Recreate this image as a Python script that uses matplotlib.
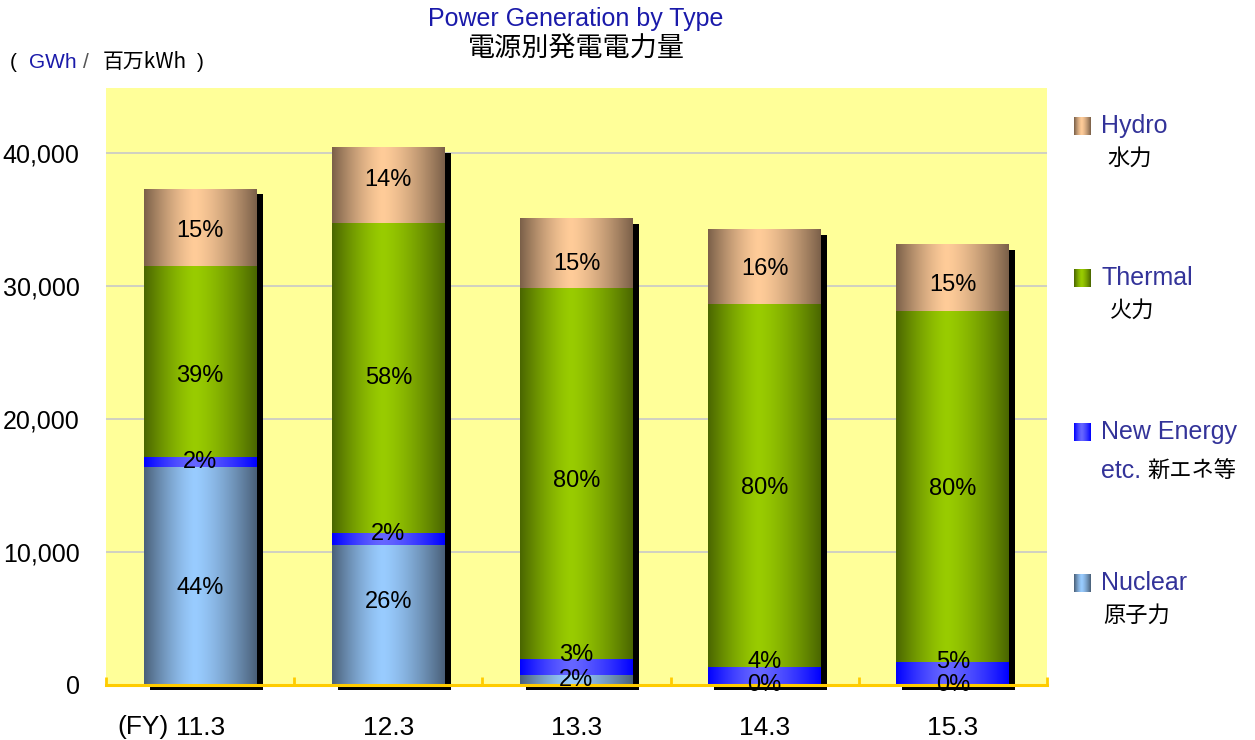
import numpy as np
import matplotlib
matplotlib.use('Agg')
import matplotlib.pyplot as plt
from matplotlib.colors import to_rgb
from matplotlib.patches import Rectangle
from matplotlib.transforms import offset_copy

# generation by source, GWh
years = ['11.3', '12.3', '13.3', '14.3', '15.3']
nuclear = [16400, 10500, 750, 0, 0]
new_energy = [750, 950, 1200, 1350, 1750]
thermal = [14400, 23300, 27900, 27300, 26350]
hydro = [5750, 5650, 5200, 5600, 5000]

series = [nuclear, new_energy, thermal, hydro]
# (edge colour, centre colour) for the cylinder shading
shades = [('#4A6079', '#99CCFF'),
          ('#0000FF', '#6666FF'),
          ('#4A6600', '#99CC00'),
          ('#7B6049', '#FFCC99')]
# vertical nudge (pixels) of the percentage labels
nudge = [[-12, 13, 0, 0, 0],
         [0, 5, 12, 14, 11],
         [-15, 0, -7, -2, -2],
         [-4, 5, -10, -2, -7]]

NUM = ['Liberation Sans Narrow', 'Liberation Sans', 'DejaVu Sans']
LAT = ['Liberation Sans', 'DejaVu Sans']
JP = ['Noto Sans CJK JP', 'DejaVu Sans']
W, H = 1255, 740


def gradient(edge, centre, n=200, c=0.45):
    t = np.linspace(0, 1, n)
    d = np.where(t < c, (c - t) / c, (t - c) / (1 - c))
    w = 1 - d ** 1.4
    e, m = np.array(to_rgb(edge)), np.array(to_rgb(centre))
    return (e[None, :] * (1 - w[:, None]) + m[None, :] * w[:, None])[None, :, :]


fig = plt.figure(figsize=(W / 100, H / 100), dpi=100)
ax = fig.add_axes([106 / W, 1 - 685 / H, 941 / W, 597 / H])
ax.set_facecolor('#FFFF99')

x = np.arange(len(years))
bw = 0.6
totals = np.sum(series, axis=0)
shadow_tf = offset_copy(ax.transData, fig=fig, x=6, y=-5, units='dots')

for i in range(len(years)):
    ax.add_patch(Rectangle((x[i] - bw / 2, 0), bw, totals[i], transform=shadow_tf,
                           facecolor='black', edgecolor='none', zorder=1.5, clip_on=False))
    bottom = 0
    for k, s in enumerate(series):
        v = s[i]
        if v > 0:
            ax.imshow(gradient(*shades[k]), extent=(x[i] - bw / 2, x[i] + bw / 2, bottom, bottom + v),
                      aspect='auto', interpolation='bilinear', zorder=2)
        pct = round(100 * v / totals[i])
        ax.annotate(f'{pct}%', (x[i], bottom + v / 2), xytext=(0, nudge[k][i]),
                    textcoords='offset pixels', ha='center', va='center',
                    fontsize=17, family=NUM, color='black', zorder=4)
        bottom += v

ax.set_xlim(-0.5, len(years) - 0.5)
ax.set_ylim(0, 44900)
ax.set_yticks(range(0, 40001, 10000))
ax.set_yticklabels([f'{v:,}' for v in range(0, 40001, 10000)], family=NUM, fontsize=18)
ax.set_xticks(x)
ax.set_xticklabels(years, family=NUM, fontsize=19)
ax.set_xticks(np.arange(-0.5, len(years)), minor=True)
ax.tick_params(axis='y', length=0, pad=19)
ax.tick_params(axis='x', which='major', length=0, pad=22)
ax.tick_params(axis='x', which='minor', direction='in', length=6, width=2, color='#FFCC00')
ax.grid(axis='y', color='#C8C8C8', lw=1.2, zorder=0.5)
ax.set_axisbelow(True)
for side in ['top', 'right', 'left']:
    ax.spines[side].set_visible(False)
ax.spines['bottom'].set_color('#FFCC00')
ax.spines['bottom'].set_linewidth(2.2)
ax.spines['bottom'].set_zorder(3)

fig.text(143 / W, 1 - 727 / H, '(FY)', family=NUM, fontsize=19, ha='center', va='center')

# titles
fig.text(576 / W, 1 - 19 / H, 'Power Generation by Type', family=LAT, fontsize=18,
         color='#1A1AAA', ha='center', va='center')
fig.text(576 / W, 1 - 49 / H, '電源別発電電力量', family=JP, fontsize=19.5,
         ha='center', va='center')

# unit
uy = 1 - 62 / H
fig.text(10 / W, uy, '(', family=LAT, fontsize=15, va='center')
fig.text(29 / W, uy, 'GWh', family=LAT, fontsize=15, color='#1A1AAA', va='center')
fig.text(83 / W, uy, '/', family=LAT, fontsize=15, color='#555555', va='center')
fig.text(103 / W, uy, '百万kWh', family=JP, fontsize=15, va='center')
fig.text(197 / W, uy, ')', family=LAT, fontsize=15, va='center')

# legend
leg_y = [126, 278, 432, 583]
names = ['Hydro', 'Thermal', 'New Energy', 'Nuclear']
jp_names = ['水力', '火力', '新エネ等', '原子力']
jp_x = [1107, 1110, 1147, 1103]
order = [3, 2, 1, 0]
for j, k in enumerate(order):
    yc = leg_y[j]
    sw = fig.add_axes([1074 / W, 1 - (yc + 9) / H, 17 / W, 18 / H])
    sw.imshow(gradient(*shades[k], n=40), aspect='auto', interpolation='bilinear')
    sw.axis('off')
    fig.text(1101 / W, 1 - yc / H, names[j], family=LAT, fontsize=18, color='#333399', va='center')
    if j == 2:
        fig.text(1101 / W, 1 - (yc + 39) / H, 'etc.', family=LAT, fontsize=18,
                 color='#333399', va='center')
    fig.text(jp_x[j] / W, 1 - (yc + 32 + (7 if j == 2 else 0)) / H, jp_names[j],
             family=JP, fontsize=16, va='center')

fig.savefig('out.png', dpi=100)
